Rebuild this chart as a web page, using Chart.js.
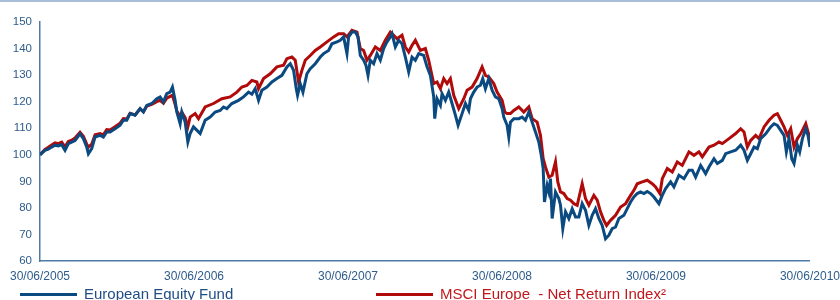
<!DOCTYPE html>
<html>
<head>
<meta charset="utf-8">
<script src="https://cdn.jsdelivr.net/npm/chart.js@4/dist/chart.umd.min.js"></script>
<style>
    html, body { margin: 0; padding: 0; background: #ffffff; }
    #wrap { position: relative; width: 840px; height: 300px; overflow: hidden; border-top: 2px solid #a9bfd9; box-sizing: border-box; }
    #chart { position: absolute; left: 0; top: -2px; }
    .legend { position: absolute; top: 283px; font-family: "Liberation Sans", Arial, sans-serif; font-size: 15px; white-space: nowrap; }
    .legend span.line { position: absolute; top: 8px; height: 3px; }
    #legFund { left: 20px; color: #1f4e85; }
    #legFund span.line { left: 0; width: 57px; background: #0b4a80; }
    #legFund span.txt { margin-left: 64px; }
    #legIndex { left: 376px; color: #c0171d; }
    #legIndex span.line { left: 0; width: 57px; background: #b00a0a; }
    #legIndex span.txt { margin-left: 64px; }
</style>
</head>
<body>
<div id="wrap">
    <canvas id="chart" width="848" height="300"></canvas>
    <div class="legend" id="legFund"><span class="line"></span><span class="txt">European Equity Fund</span></div>
    <div class="legend" id="legIndex"><span class="line"></span><span class="txt">MSCI Europe&nbsp; - Net Return Index²</span></div>
</div>
<script>
"use strict";

// x = months since 30/06/2005
const tickLabels = ["30/06/2005", "30/06/2006", "30/06/2007", "30/06/2008", "30/06/2009", "30/06/2010"];

const fundMonths = [0, 0.39, 0.65, 0.91, 1.17, 1.43, 1.69, 1.95, 2.21, 2.47, 2.73, 3.12, 3.38, 3.64, 3.77, 4.03, 4.29, 4.68, 4.94, 5.2,
    5.46, 5.85, 6.24, 6.5, 6.76, 7.02, 7.41, 7.8, 8.06, 8.32, 8.71, 9.1, 9.36, 9.62, 9.88, 10.14, 10.32, 10.53, 10.66, 10.92,
    11.05, 11.31, 11.52, 11.7, 11.96, 12.48, 12.87, 13.26, 13.65, 14.04, 14.3, 14.56, 14.95, 15.47, 15.86, 16.25, 16.51, 16.77, 17.03, 17.29,
    17.68, 18.07, 18.46, 18.85, 19.24, 19.5, 19.76, 19.97, 20.07, 20.28, 20.49, 20.8, 21.06, 21.45, 21.84, 22.1, 22.49, 22.75, 23.14, 23.4,
    23.66, 23.92, 24.05, 24.31, 24.57, 24.78, 24.96, 25.22, 25.4, 25.56, 25.74, 26.0, 26.26, 26.52, 26.78, 27.04, 27.3, 27.43, 27.69, 27.95,
    28.21, 28.47, 28.73, 28.99, 29.25, 29.51, 29.9, 30.16, 30.42, 30.68, 30.76, 30.94, 31.2, 31.33, 31.59, 31.85, 32.11, 32.37, 32.58, 32.89,
    33.15, 33.41, 33.54, 33.8, 34.06, 34.32, 34.5, 34.71, 34.97, 35.23, 35.49, 35.75, 36.01, 36.14, 36.4, 36.53, 36.66, 36.92, 37.31, 37.57,
    37.83, 38.09, 38.35, 38.61, 38.87, 39.06, 39.21, 39.31, 39.52, 39.65, 39.78, 39.91, 40.17, 40.43, 40.56, 40.74, 40.95, 41.21, 41.47, 41.73,
    41.99, 42.25, 42.51, 42.77, 43.03, 43.29, 43.55, 43.81, 44.07, 44.33, 44.59, 44.85, 45.11, 45.5, 45.76, 46.02, 46.28, 46.54, 46.8, 47.06,
    47.32, 47.58, 47.84, 48.23, 48.49, 48.75, 49.14, 49.4, 49.79, 50.18, 50.57, 50.83, 51.09, 51.48, 51.87, 52.13, 52.52, 52.78, 53.17, 53.43,
    53.82, 54.21, 54.6, 54.86, 55.12, 55.38, 55.64, 55.9, 56.16, 56.55, 56.94, 57.2, 57.46, 57.72, 57.98, 58.16, 58.37, 58.58, 58.76, 59.02,
    59.2, 59.41, 59.67, 59.85, 60];
const fundValues = [100.0, 101.7, 102.1, 102.9, 103.6, 103.3, 103.8, 101.7, 104.2, 104.8, 105.4, 107.9, 106.1, 102.9, 100.4, 102.3, 106.7, 107.3, 106.7, 108.6,
    108.6, 109.8, 111.1, 113.0, 113.0, 115.5, 114.9, 117.4, 116.1, 118.6, 119.3, 121.1, 121.8, 119.9, 123.0, 123.6, 125.5, 120.5, 116.1, 111.7,
    116.1, 112.3, 104.8, 108.0, 110.5, 108.0, 113.0, 114.2, 116.1, 116.7, 118.0, 117.4, 119.3, 120.5, 121.8, 123.6, 122.8, 124.9, 120.5, 124.3,
    125.5, 127.4, 128.7, 129.9, 133.1, 134.3, 131.8, 124.9, 122.4, 126.8, 123.6, 130.5, 132.4, 134.3, 136.8, 138.1, 139.3, 141.8, 142.5, 143.1,
    144.4, 138.1, 144.4, 146.2, 146.2, 144.4, 137.4, 135.6, 133.7, 129.9, 135.6, 134.3, 138.1, 135.6, 140.0, 142.5, 144.4, 145.6, 140.6, 143.1,
    141.8, 136.8, 131.2, 136.8, 135.6, 138.1, 137.4, 133.1, 129.9, 121.8, 113.6, 121.1, 118.6, 123.0, 120.5, 123.6, 119.3, 114.9, 111.1, 115.5,
    119.3, 116.7, 121.1, 123.6, 125.5, 126.2, 128.7, 124.9, 128.7, 124.3, 121.8, 121.1, 117.4, 114.2, 111.1, 106.7, 112.3, 113.6, 113.6, 114.2,
    113.0, 116.1, 112.3, 108.6, 104.8, 99.8, 94.8, 82.2, 88.5, 86.0, 91.0, 76.0, 86.0, 83.5, 81.0, 72.2, 78.5, 76.0, 79.7, 76.6,
    76.6, 81.6, 79.1, 73.4, 77.2, 79.7, 76.0, 73.4, 68.4, 69.7, 72.2, 72.8, 76.0, 77.2, 79.7, 82.2, 84.1, 85.4, 86.0, 85.4,
    86.2, 85.4, 84.1, 81.6, 84.7, 87.3, 89.8, 87.9, 92.3, 91.0, 94.2, 94.2, 91.6, 96.0, 92.9, 95.4, 98.5, 96.7, 97.9, 100.4,
    101.1, 101.7, 103.6, 101.7, 97.9, 100.4, 102.9, 102.3, 106.1, 107.9, 110.5, 111.7, 111.1, 109.2, 107.3, 101.1, 106.1, 98.5, 96.7, 103.6,
    101.1, 106.1, 109.8, 107.3, 102.9];

const indexMonths = [0, 0.39, 0.65, 0.91, 1.17, 1.43, 1.69, 1.95, 2.21, 2.47, 2.73, 3.12, 3.38, 3.64, 3.77, 4.03, 4.29, 4.68, 4.94, 5.2,
    5.46, 5.85, 6.24, 6.5, 6.76, 7.02, 7.41, 7.8, 8.06, 8.32, 8.71, 9.1, 9.36, 9.62, 9.88, 10.14, 10.32, 10.53, 10.66, 10.92,
    11.05, 11.31, 11.52, 11.7, 12.09, 12.35, 12.87, 13.52, 14.17, 14.82, 15.34, 15.73, 16.12, 16.51, 16.9, 17.03, 17.42, 17.94, 18.46, 18.98,
    19.24, 19.63, 19.89, 20.15, 20.41, 20.67, 21.06, 21.45, 21.84, 22.36, 22.88, 23.27, 23.66, 23.92, 24.31, 24.7, 24.96, 25.22, 25.48, 25.74,
    26.13, 26.52, 26.91, 27.3, 27.56, 27.82, 28.21, 28.47, 28.73, 28.99, 29.25, 29.64, 30.03, 30.29, 30.68, 30.94, 31.2, 31.46, 31.72, 31.98,
    32.24, 32.63, 33.02, 33.28, 33.67, 34.06, 34.45, 34.71, 34.97, 35.36, 35.62, 36.01, 36.22, 36.4, 36.66, 36.92, 37.31, 37.7, 38.09, 38.35,
    38.74, 39.0, 39.21, 39.39, 39.65, 39.91, 40.17, 40.35, 40.56, 40.82, 41.08, 41.34, 41.6, 41.86, 42.25, 42.51, 42.77, 43.16, 43.42, 43.68,
    43.94, 44.15, 44.46, 44.85, 45.24, 45.63, 46.02, 46.28, 46.54, 46.93, 47.32, 47.71, 47.97, 48.31, 48.49, 48.88, 49.27, 49.66, 50.05, 50.57,
    50.96, 51.35, 51.61, 52.13, 52.52, 52.91, 53.17, 53.69, 54.21, 54.6, 54.86, 55.12, 55.38, 55.77, 56.03, 56.42, 56.81, 57.2, 57.46, 57.72,
    57.98, 58.24, 58.5, 58.76, 59.02, 59.28, 59.67, 59.85, 60];
const indexValues = [100.0, 102.0, 102.8, 103.7, 104.5, 104.2, 104.8, 103.0, 105.0, 105.5, 106.3, 108.5, 107.0, 104.0, 102.9, 104.0, 107.5, 108.0, 107.5, 109.5,
    109.3, 110.6, 111.9, 113.6, 113.5, 115.6, 115.0, 117.3, 116.2, 118.3, 119.0, 120.0, 120.5, 119.4, 121.3, 122.0, 122.4, 119.0, 116.5, 114.5,
    116.0, 114.0, 110.5, 114.2, 115.5, 113.6, 118.0, 119.3, 121.1, 121.8, 123.6, 125.5, 126.1, 128.0, 127.4, 124.9, 128.7, 130.5, 133.1, 133.7,
    136.2, 136.8, 135.6, 127.4, 131.8, 135.6, 137.4, 139.3, 140.6, 142.5, 144.4, 145.6, 145.6, 144.4, 146.9, 146.2, 140.0, 139.3, 135.6, 137.4,
    140.6, 139.3, 143.1, 146.2, 145.0, 143.7, 145.0, 140.6, 138.7, 141.2, 143.1, 139.3, 140.0, 135.6, 126.8, 127.4, 124.9, 128.7, 126.8, 128.7,
    122.4, 117.4, 121.1, 124.3, 125.5, 128.7, 133.1, 129.9, 129.3, 126.8, 123.6, 120.5, 116.1, 115.5, 115.5, 116.7, 118.0, 116.1, 118.0, 113.6,
    112.3, 107.3, 98.5, 95.4, 91.6, 92.3, 97.3, 89.8, 86.0, 85.4, 83.5, 82.9, 81.6, 81.0, 89.1, 83.5, 81.0, 84.7, 82.9, 78.5,
    75.3, 73.4, 75.3, 77.2, 80.3, 81.6, 84.7, 86.6, 89.1, 89.8, 90.4, 89.1, 87.9, 85.4, 91.0, 94.8, 93.5, 97.3, 96.0, 101.1,
    99.8, 101.1, 99.2, 102.9, 103.6, 104.8, 104.2, 106.1, 108.0, 109.8, 108.6, 102.9, 105.4, 107.3, 106.1, 110.5, 113.0, 114.9, 115.5, 113.0,
    110.5, 107.3, 109.8, 102.9, 106.1, 107.9, 111.7, 108.6, 106.7];

const axisColor = "#4d7aa6";
const tickColor = "#2e5c8c";

function toPoints(xs, ys) {
    return xs.map((x, i) => ({ x: x, y: ys[i] }));
}

const ctx = document.getElementById("chart").getContext("2d");
new Chart(ctx, {
    type: "line",
    data: {
        datasets: [{
            label: "European Equity Fund",
            data: toPoints(fundMonths, fundValues),
            borderColor: "#0b4a80",
            borderWidth: 3,
            pointRadius: 0,
            tension: 0
        }, {
            label: "MSCI Europe  - Net Return Index²",
            data: toPoints(indexMonths, indexValues),
            borderColor: "#b00a0a",
            borderWidth: 3,
            pointRadius: 0,
            tension: 0
        }]
    },
    options: {
        responsive: false,
        animation: false,
        layout: { padding: { top: 22, right: 23, bottom: 0, left: 0 } },
        plugins: { legend: { display: false }, tooltip: { enabled: false } },
        scales: {
            x: {
                type: "linear",
                min: 0,
                max: 60,
                afterFit: s => { s.height = 39; },
                grid: { display: false, drawTicks: false },
                border: { display: true, color: axisColor, width: 1.5 },
                ticks: {
                    stepSize: 12,
                    autoSkip: false,
                    maxRotation: 0,
                    padding: 8,
                    color: tickColor,
                    font: { family: "'Liberation Sans', Arial, sans-serif", size: 12 },
                    callback: v => tickLabels[Math.round(v / 12)]
                }
            },
            y: {
                min: 60,
                max: 150,
                afterFit: s => { s.width = 40; },
                grid: { display: false, drawTicks: false },
                border: { display: true, color: axisColor, width: 1.5 },
                ticks: {
                    stepSize: 10,
                    padding: 8,
                    color: tickColor,
                    font: { family: "'Liberation Sans', Arial, sans-serif", size: 11.5 }
                }
            }
        }
    }
});
</script>
</body>
</html>
